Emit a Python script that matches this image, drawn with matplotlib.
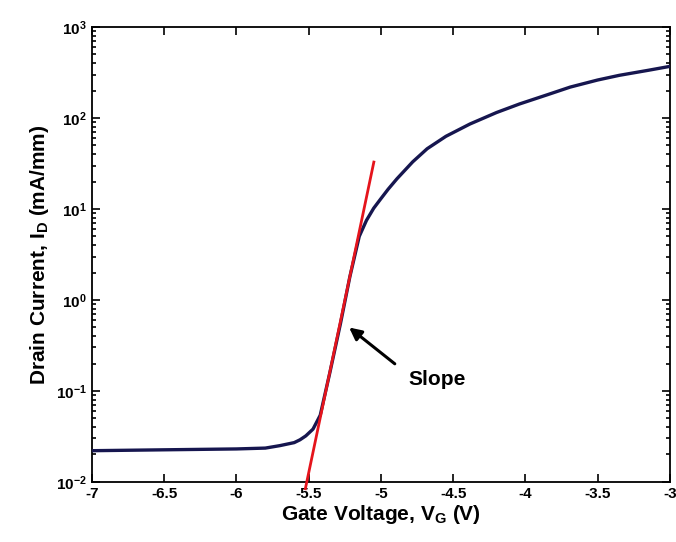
import numpy as np
import matplotlib
matplotlib.use("Agg")
import matplotlib.pyplot as plt
from matplotlib.ticker import LogLocator, FixedLocator

# transfer characteristic, drain current vs gate voltage
vg = [-7.0, -6.5, -6.0, -5.8, -5.7, -5.6, -5.56, -5.52, -5.47, -5.42, -5.353,
      -5.28, -5.215, -5.15, -5.10, -5.05, -5.0, -4.95, -4.889, -4.78, -4.68,
      -4.55, -4.384, -4.2, -4.04, -3.85, -3.69, -3.5, -3.35, -3.15, -3.0]
id_ma = [0.022, 0.0225, 0.023, 0.0235, 0.025, 0.027, 0.029, 0.032, 0.038,
         0.054, 0.16, 0.55, 1.8, 5.0, 7.5, 10.2, 13.0, 16.5, 21.5, 33, 46,
         63, 86, 115, 143, 180, 219, 262, 295, 335, 370]

# subthreshold slope fit
slope_vg = [-5.523, -5.049]
slope_id = [0.0084, 32.8]

arrow_head = (-5.235, 0.52)
arrow_tail = (-4.889, 0.19)
label_pos = (-4.81, 0.135)

xticks = [-7, -6.5, -6, -5.5, -5, -4.5, -4, -3.5, -3]
xticklabels = ["-7", "-6.5", "-6", "-5.5", "-5", "-4.5", "-4", "-3.5", "-3"]

plt.rcParams.update({
    "font.family": ["Liberation Sans", "DejaVu Sans"],
    "mathtext.fontset": "custom",
    "mathtext.rm": "Liberation Sans",
    "mathtext.bf": "Liberation Sans:bold",
    "mathtext.default": "bf",
})

fig = plt.figure(figsize=(6.76, 5.42), dpi=100)
ax = fig.add_axes([0.136, 0.111, 0.855, 0.839])

ax.plot(vg, id_ma, color="#16164f", lw=2.4, zorder=3)
ax.plot(slope_vg, slope_id, color="#e5141c", lw=2.0, zorder=4, clip_on=False)

ax.annotate("", xy=arrow_head, xytext=arrow_tail,
            arrowprops=dict(arrowstyle="-|>", color="black", lw=2.2,
                            mutation_scale=18))
ax.text(label_pos[0], label_pos[1], "Slope", fontsize=15, fontweight="bold",
        ha="left", va="center")

ax.set_yscale("log")
ax.set_xlim(-7, -3)
ax.set_ylim(1e-2, 1e3)
ax.xaxis.set_major_locator(FixedLocator(xticks))
ax.set_xticklabels(xticklabels)
ax.yaxis.set_major_locator(LogLocator(base=10, numticks=10))
ax.yaxis.set_minor_locator(LogLocator(base=10, subs=np.arange(2, 10), numticks=20))

ax.tick_params(which="both", direction="in", top=True, right=True,
               width=1.2, labelsize=11)
ax.tick_params(which="major", length=6)
ax.tick_params(which="minor", length=3)
for lab in ax.get_xticklabels() + ax.get_yticklabels():
    lab.set_fontweight("bold")
for sp in ax.spines.values():
    sp.set_linewidth(1.3)

ax.set_xlabel("Gate Voltage, V$_G$ (V)", fontsize=15, fontweight="bold", labelpad=2)
ax.set_ylabel("Drain Current, I$_D$ (mA/mm)", fontsize=15, fontweight="bold", labelpad=4)

fig.savefig("out.png", dpi=100)
